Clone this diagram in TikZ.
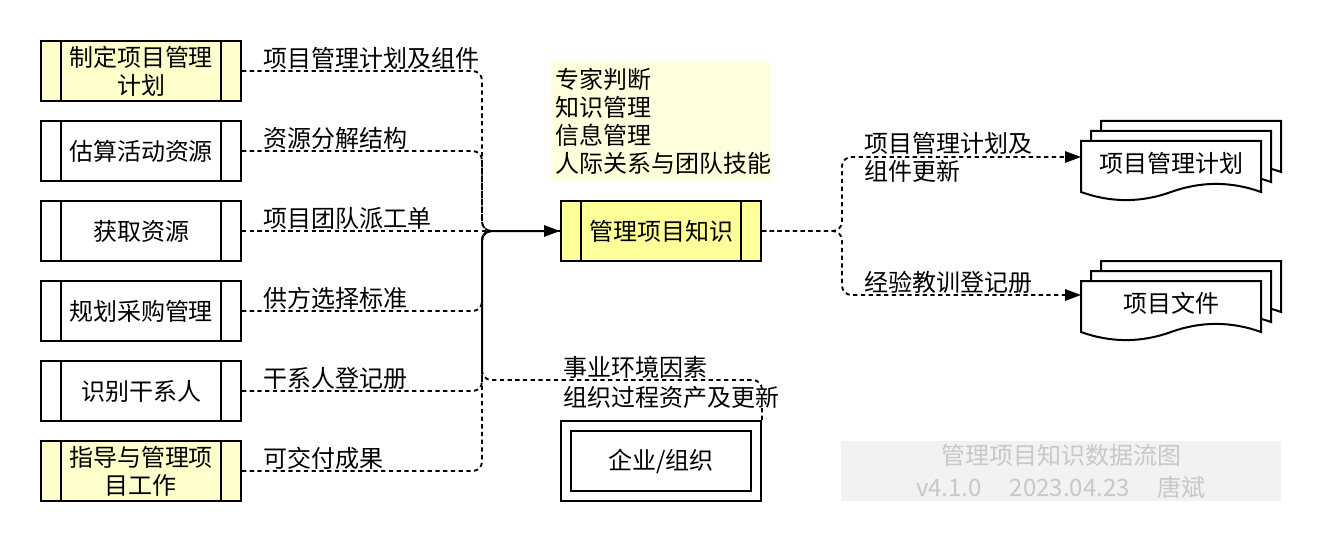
\documentclass[tikz,border=0pt]{standalone}
\usepackage{fontspec}
\setmainfont{Noto Sans CJK SC}
\usetikzlibrary{arrows.meta}
\definecolor{procfill}{HTML}{FFFFCC}
\definecolor{knowfill}{HTML}{FFFF99}
\definecolor{toolfill}{HTML}{FFFFDD}
\definecolor{notefill}{HTML}{F2F2F2}
\definecolor{notetext}{HTML}{C8C8C8}

\tikzset{
  proc/.style={draw, line width=1.5pt, minimum width=150pt, minimum height=45pt, align=center, inner sep=0pt,
    path picture={\draw[line width=1.5pt]
      ([xshift=15pt]path picture bounding box.north west) -- ([xshift=15pt]path picture bounding box.south west)
      ([xshift=-15pt]path picture bounding box.north east) -- ([xshift=-15pt]path picture bounding box.south east);}},
  store/.style={draw, line width=1.5pt, minimum width=150pt, minimum height=60pt, inner sep=0pt,
    path picture={\draw[line width=1.5pt]
      ([shift={(7.5pt,-7.5pt)}]path picture bounding box.north west) rectangle ([shift={(-7.5pt,7.5pt)}]path picture bounding box.south east);}},
  flow/.style={line width=1.4pt, dash pattern=on 3.2pt off 2.6pt, rounded corners=7pt},
  trunk/.style={line width=1.5pt, rounded corners=7pt},
  tip/.style={-{Triangle[length=12pt,width=8.5pt]}},
  lab/.style={anchor=west, inner sep=0pt},
  docline/.style={line width=1.5pt, fill=white},
}

\begin{document}
\begin{tikzpicture}[x=0.75pt, y=-0.75pt, font=\fontsize{18pt}{21pt}\selectfont]
  \useasboundingbox (0,0) rectangle (1322,542);

  % inputs
  \node[proc, fill=procfill] (plan) at (141,71) {制定项目管理\\计划};
  \node[proc] (estres) at (141,151) {估算活动资源};
  \node[proc] (acqres) at (141,231) {获取资源};
  \node[proc] (planproc) at (141,311) {规划采购管理};
  \node[proc] (identsh) at (141,391) {识别干系人};
  \node[proc, fill=procfill] (direct) at (141,471) {指导与管理项\\目工作};

  % process, tools, enterprise
  \node[fill=toolfill, minimum width=165pt, minimum height=90pt, text width=159pt, inner xsep=3pt, align=left] (tools) at (661,121) {专家判断\\知识管理\\信息管理\\人际关系与团队技能};
  \node[proc, fill=knowfill] (know) at (661,231) {管理项目知识};
  \node[store] (org) at (661,461) {企业/组织};

  % outputs
  \foreach \off in {20,10,0} {
    \draw[docline, shift={(1081+\off,141-\off)}] (0,0) -- (180,0) -- (180,51)
      .. controls (150,40.2) and (120,40.2) .. (90,51)
      .. controls (60,61.8) and (30,61.8) .. (0,51) -- cycle;
    \draw[docline, shift={(1081+\off,281-\off)}] (0,0) -- (180,0) -- (180,51)
      .. controls (150,40.2) and (120,40.2) .. (90,51)
      .. controls (60,61.8) and (30,61.8) .. (0,51) -- cycle;
  }
  \node (pmp) at (1171,163) {项目管理计划};
  \node (pdocs) at (1171,303) {项目文件};

  \coordinate (J) at (482,231);
  \coordinate (T) at (482,372);
  \coordinate (pmpin) at (1081,157);
  \coordinate (pdin) at (1081,295);

  % flows in
  \foreach \src in {plan,estres,planproc,identsh,direct}
    \draw[flow] (\src.east) -| (J) -- (know.west);
  \draw[flow] (acqres.east) -- (know.west);
  \draw[flow] (org.north east) -- ++(0,-40) -| (J) -- (know.west);
  \draw[trunk, tip] (T) |- (know.west);

  % flows out
  \draw[flow, tip] (know.east) -- ++(80,0) |- (pmpin);
  \draw[flow, tip] (know.east) -- ++(80,0) |- (pdin);

  % labels
  \node[lab] (lplan) at (263,58) {项目管理计划及组件};
  \node[lab] (lestres) at (263,138) {资源分解结构};
  \node[lab] (lacqres) at (263,218) {项目团队派工单};
  \node[lab] (lplanproc) at (263,298) {供方选择标准};
  \node[lab] (lidentsh) at (263,378) {干系人登记册};
  \node[lab] (ldirect) at (263,458) {可交付成果};
  \node[lab, align=left] (lpmp) at (864,157) {项目管理计划及\\组件更新};
  \node[lab] (lpdocs) at (864,282) {经验教训登记册};
  \node[lab] (lorg1) at (563,367) {事业环境因素};
  \node[lab, fill=white] (lorg2) at (563,397) {组织过程资产及更新};

  % note
  \node[fill=notefill, text=notetext, minimum width=330pt, minimum height=45pt, align=center, inner sep=0pt] (note) at (1061,471)
    {管理项目知识数据流图\\[3pt]v4.1.0\hspace{21pt}2023.04.23\hspace{21pt}唐斌};
\end{tikzpicture}
\end{document}
